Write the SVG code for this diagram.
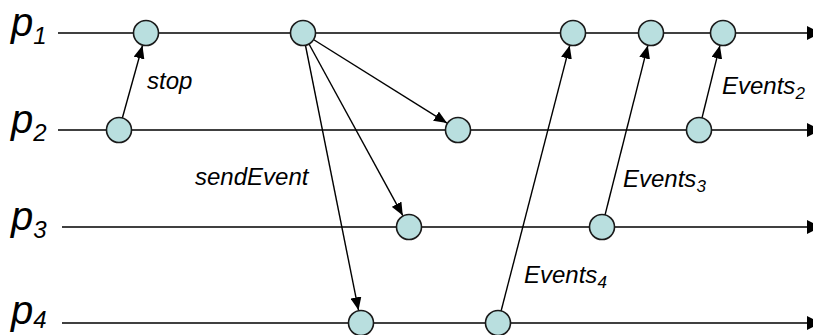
<svg xmlns="http://www.w3.org/2000/svg" width="813" height="335" viewBox="0 0 813 335">
  <style>
    .tl { stroke: #000; stroke-width: 1.6; fill: none; }
    .msg { stroke: #000; stroke-width: 1.4; fill: none; marker-end: url(#ah); }
    .ev { fill: #b9dfdf; stroke: #1a1a1a; stroke-width: 1.6; }
    .proc { font-family: "Liberation Sans", Arial, sans-serif; font-style: italic; font-size: 40px; fill: #000; }
    .lbl { font-family: "Liberation Sans", Arial, sans-serif; font-style: italic; font-size: 24px; fill: #000; }
    .sub { font-size: 17px; }
    .psub { font-size: 24px; }
  </style>
  <defs>
    <marker id="ah" markerUnits="userSpaceOnUse" markerWidth="13" markerHeight="11" refX="13" refY="5.5" orient="auto">
      <path d="M0,0 L13,5.5 L0,11 z" fill="#000"/>
    </marker>
    <marker id="th" markerUnits="userSpaceOnUse" markerWidth="14" markerHeight="14" refX="14" refY="7" orient="auto">
      <path d="M0,0 L14,7 L0,14 z" fill="#000"/>
    </marker>
  </defs>

  <!-- process labels -->
  <g id="label-p1"><text class="proc" x="11" y="36">p<tspan class="psub" dy="8">1</tspan></text></g>
  <g id="label-p2"><text class="proc" x="11" y="133">p<tspan class="psub" dy="8">2</tspan></text></g>
  <g id="label-p3"><text class="proc" x="11" y="230">p<tspan class="psub" dy="8">3</tspan></text></g>
  <g id="label-p4"><text class="proc" x="11" y="324">p<tspan class="psub" dy="4">4</tspan></text></g>

  <!-- timelines -->
  <g id="timelines">
    <line class="tl" x1="58" y1="33" x2="821" y2="33" marker-end="url(#th)"/>
    <line class="tl" x1="58" y1="130" x2="821" y2="130" marker-end="url(#th)"/>
    <line class="tl" x1="62" y1="227" x2="821" y2="227" marker-end="url(#th)"/>
    <line class="tl" x1="62" y1="323" x2="821" y2="323" marker-end="url(#th)"/>
  </g>

  <!-- messages -->
  <g id="connectors">
    <line class="msg" x1="119" y1="130" x2="142.5" y2="45.5"/>
    <line class="msg" x1="303" y1="33" x2="447" y2="123.1"/>
    <line class="msg" x1="303" y1="33" x2="402.8" y2="215.6"/>
    <line class="msg" x1="303" y1="33" x2="358.5" y2="310.2"/>
    <line class="msg" x1="498" y1="323" x2="569.7" y2="45.6"/>
    <line class="msg" x1="602" y1="227" x2="647.8" y2="45.6"/>
    <line class="msg" x1="699" y1="130" x2="719.9" y2="45.6"/>
  </g>

  <!-- events -->
  <g id="e-p1-a"><circle class="ev" cx="146" cy="33" r="12.5"/></g>
  <g id="e-p1-b"><circle class="ev" cx="303" cy="33" r="12.5"/></g>
  <g id="e-p1-c"><circle class="ev" cx="573" cy="33" r="12.5"/></g>
  <g id="e-p1-d"><circle class="ev" cx="651" cy="33" r="12.5"/></g>
  <g id="e-p1-e"><circle class="ev" cx="723" cy="33" r="12.5"/></g>
  <g id="e-p2-a"><circle class="ev" cx="119" cy="130" r="12.5"/></g>
  <g id="e-p2-b"><circle class="ev" cx="458" cy="130" r="12.5"/></g>
  <g id="e-p2-c"><circle class="ev" cx="699" cy="130" r="12.5"/></g>
  <g id="e-p3-a"><circle class="ev" cx="409" cy="227" r="12.5"/></g>
  <g id="e-p3-b"><circle class="ev" cx="602" cy="227" r="12.5"/></g>
  <g id="e-p4-a"><circle class="ev" cx="361" cy="323" r="12.5"/></g>
  <g id="e-p4-b"><circle class="ev" cx="498" cy="323" r="12.5"/></g>

  <!-- message labels -->
  <g id="label-stop"><text class="lbl" x="147" y="89">stop</text></g>
  <g id="label-sendEvent"><text class="lbl" x="195" y="185">sendEvent</text></g>
  <g id="label-events2"><text class="lbl" x="722" y="94">Events<tspan class="sub" dy="5">2</tspan></text></g>
  <g id="label-events3"><text class="lbl" x="623" y="187">Events<tspan class="sub" dy="5">3</tspan></text></g>
  <g id="label-events4"><text class="lbl" x="524" y="283">Events<tspan class="sub" dy="5">4</tspan></text></g>
</svg>
